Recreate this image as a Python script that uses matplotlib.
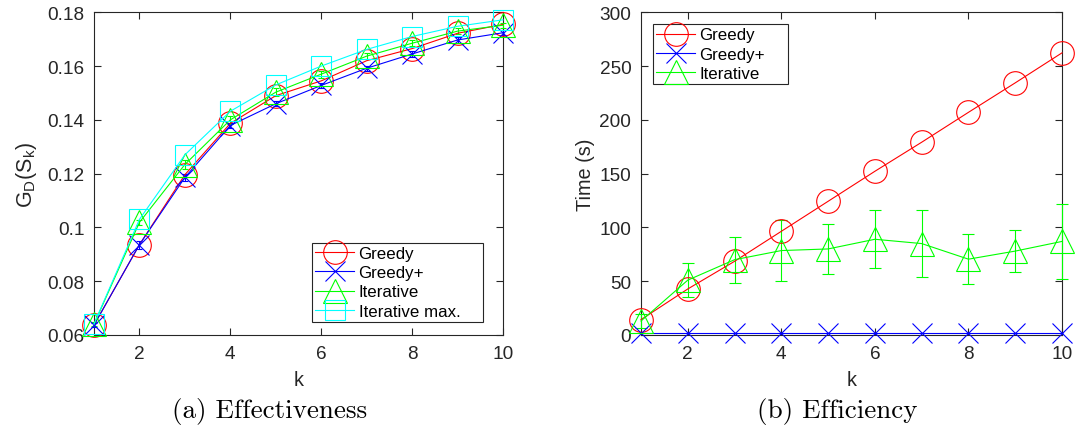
import numpy as np
import matplotlib
matplotlib.use('Agg')
import matplotlib.pyplot as plt

plt.rcParams['font.family'] = ['Liberation Sans', 'DejaVu Sans']
plt.rcParams['mathtext.fontset'] = 'custom'
plt.rcParams['mathtext.rm'] = 'Liberation Sans'
plt.rcParams['mathtext.it'] = 'Liberation Sans'

k = [1, 2, 3, 4, 5, 6, 7, 8, 9, 10]

# effectiveness G_D(S_k)
eff_greedy = [0.0637, 0.0936, 0.1196, 0.1387, 0.1490, 0.1545, 0.1620, 0.1665, 0.1722, 0.1755]
eff_greedy_plus = [0.0637, 0.0936, 0.1186, 0.1379, 0.1460, 0.1528, 0.1592, 0.1645, 0.1697, 0.1724]
eff_greedy_plus_err = [0.0008, 0.0015, 0.0012, 0.0010, 0.0010, 0.0010, 0.0010, 0.0010, 0.0010, 0.0010]
eff_iter = [0.0640, 0.1019, 0.1234, 0.1400, 0.1503, 0.1570, 0.1637, 0.1685, 0.1730, 0.1752]
eff_iter_err = [0.0008, 0.0010, 0.0015, 0.0015, 0.0015, 0.0013, 0.0012, 0.0012, 0.0012, 0.0010]
eff_iter_max = [0.0641, 0.1030, 0.1270, 0.1432, 0.1530, 0.1600, 0.1662, 0.1710, 0.1748, 0.1772]

# running time (s)
time_greedy = [14.3, 42.8, 68.5, 96.4, 124.3, 152.2, 179.2, 207.0, 234.4, 262.3]
time_greedy_plus = [1.5, 1.5, 1.5, 1.5, 1.5, 1.5, 1.5, 1.5, 1.5, 1.5]
time_iter = [13.0, 51.0, 70.0, 78.5, 80.0, 89.0, 85.0, 70.5, 78.0, 87.0]
time_iter_err = [6.5, 15.5, 21.5, 28.5, 23.5, 27.0, 31.0, 23.0, 19.5, 34.5]

dark = '#262626'
green = '#00ff00'
lw = 0.8
tick_fs = 13.7
label_fs = 14.3
leg_fs = 12.2

W, H = 1081, 435
fig = plt.figure(figsize=(W / 100, H / 100), dpi=100)
# axes boxes in pixels: left, right, top, bottom
ax1 = fig.add_axes([94 / W, 1 - 336 / H, 409 / W, 322.7 / H])
ax2 = fig.add_axes([641 / W, 1 - 336 / H, 421 / W, 322.7 / H])


def style_axes(ax):
    for s in ax.spines.values():
        s.set_color(dark)
        s.set_linewidth(0.8)
    ax.tick_params(direction='in', top=True, right=True, length=5, width=0.8,
                   colors=dark, labelsize=tick_fs, pad=7)
    ax.set_xlim(1, 10)
    ax.set_xticks([2, 4, 6, 8, 10])
    ax.set_xlabel('k', fontsize=label_fs, color=dark, labelpad=6)


def add_legend(ax, handles, bbox, loc):
    leg = ax.legend(handles=handles, loc=loc, bbox_to_anchor=bbox, mode='expand',
                    fontsize=leg_fs, fancybox=False, edgecolor=dark,
                    handlelength=2.3, borderpad=0.2, labelspacing=0.25,
                    handletextpad=0.25, borderaxespad=0, framealpha=1)
    leg.get_frame().set_linewidth(0.8)
    return leg


# (a) effectiveness
ax1.errorbar(k, eff_greedy_plus, yerr=eff_greedy_plus_err, fmt='none', ecolor='blue',
             elinewidth=lw, capsize=2.5, capthick=lw, clip_on=False, zorder=3)
ax1.errorbar(k, eff_iter, yerr=eff_iter_err, fmt='none', ecolor=green,
             elinewidth=lw, capsize=2.5, capthick=lw, clip_on=False, zorder=3)
h1, = ax1.plot(k, eff_greedy, '-o', color='red', mfc='none', ms=17, lw=lw, mew=lw,
               label='Greedy', clip_on=False, zorder=3)
h2, = ax1.plot(k, eff_greedy_plus, '-x', color='blue', ms=15, lw=lw, mew=lw,
               label='Greedy+', clip_on=False, zorder=3)
h3, = ax1.plot(k, eff_iter, '-^', color=green, mfc='none', ms=17, lw=lw, mew=lw,
               label='Iterative', clip_on=False, zorder=3)
h4, = ax1.plot(k, eff_iter_max, '-s', color='cyan', mfc='none', ms=14, lw=lw, mew=lw,
               label='Iterative max.', clip_on=False, zorder=3)
style_axes(ax1)
ax1.set_ylim(0.06, 0.18)
ax1.set_yticks([0.06, 0.08, 0.10, 0.12, 0.14, 0.16, 0.18])
ax1.set_yticklabels(['0.06', '0.08', '0.1', '0.12', '0.14', '0.16', '0.18'])
ax1.set_ylabel(r'G$_{\rm D}$(S$_{\rm k}$)', fontsize=15.5, color=dark, labelpad=6)
add_legend(ax1, [h1, h2, h3, h4], (0.533, 0.040, 0.418, 0.29), 'lower left')

# (b) efficiency
ax2.errorbar(k, time_iter, yerr=time_iter_err, fmt='none', ecolor=green,
             elinewidth=lw, capsize=4.3, capthick=lw, clip_on=False, zorder=3)
g1, = ax2.plot(k, time_greedy, '-o', color='red', mfc='none', ms=17, lw=lw, mew=lw,
               label='Greedy', clip_on=False, zorder=3)
g2, = ax2.plot(k, time_greedy_plus, '-x', color='blue', ms=15, lw=lw, mew=lw,
               label='Greedy+', clip_on=False, zorder=3)
g3, = ax2.plot(k, time_iter, '-^', color=green, mfc='none', ms=17, lw=lw, mew=lw,
               label='Iterative', clip_on=False, zorder=3)
style_axes(ax2)
ax2.set_ylim(0, 300)
ax2.set_yticks(np.arange(0, 301, 50))
ax2.set_ylabel('Time (s)', fontsize=label_fs, color=dark, labelpad=3)
add_legend(ax2, [g1, g2, g3], (0.0285, 0.7406, 0.321, 0.223), 'upper left')

# subfigure captions
fig.text(0.2498, 0.055, '(a) Effectiveness', fontsize=19.5, family='cmr10',
         ha='center', va='center')
fig.text(0.7743, 0.055, '(b) Efficiency', fontsize=19.5, family='cmr10',
         ha='center', va='center')

fig.savefig('out.png', dpi=100)
